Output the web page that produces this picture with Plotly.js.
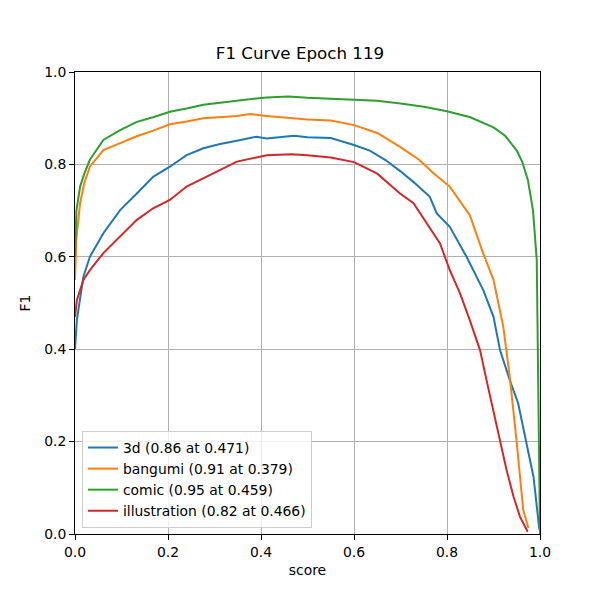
<!DOCTYPE html>
<html>
<head>
<meta charset="utf-8">
<script src="https://cdn.plot.ly/plotly-3.0.1.min.js"></script>
<style>html,body{margin:0;padding:0;background:#fff;}#chart{width:600px;height:600px;}</style>
</head>
<body>
<div id="chart"></div>
<script>
// series names (legend labels)
const names = ["3d (0.86 at 0.471)", "bangumi (0.91 at 0.379)", "comic (0.95 at 0.459)", "illustration (0.82 at 0.466)"];
const colors = ["#1f77b4", "#ff7f0e", "#2ca02c", "#d62728"];

// 3d
const x3d = [0, 0.004, 0.018, 0.032, 0.061, 0.097, 0.133, 0.168, 0.204, 0.24, 0.276, 0.312, 0.348, 0.39, 0.412, 0.45, 0.471, 0.5, 0.55, 0.6, 0.634, 0.667, 0.7, 0.73, 0.763, 0.778, 0.806, 0.842, 0.878, 0.9, 0.914, 0.935, 0.953, 0.971, 0.986, 0.9986];
const y3d = [0.40, 0.463, 0.557, 0.60, 0.651, 0.701, 0.737, 0.773, 0.795, 0.82, 0.835, 0.844, 0.851, 0.86, 0.856, 0.86, 0.862, 0.859, 0.857, 0.842, 0.83, 0.81, 0.785, 0.76, 0.73, 0.694, 0.665, 0.60, 0.528, 0.47, 0.398, 0.333, 0.283, 0.196, 0.124, 0.01];

// bangumi
const xBan = [0, 0.003, 0.011, 0.02, 0.032, 0.061, 0.097, 0.133, 0.168, 0.204, 0.24, 0.276, 0.348, 0.376, 0.412, 0.45, 0.5, 0.55, 0.6, 0.65, 0.699, 0.74, 0.771, 0.806, 0.849, 0.878, 0.90, 0.921, 0.935, 0.95, 0.964, 0.975];
const yBan = [0.55, 0.64, 0.716, 0.76, 0.795, 0.831, 0.846, 0.861, 0.873, 0.887, 0.893, 0.90, 0.905, 0.909, 0.905, 0.902, 0.897, 0.895, 0.885, 0.868, 0.838, 0.81, 0.781, 0.752, 0.69, 0.607, 0.55, 0.449, 0.34, 0.197, 0.052, 0.013];

// comic
const xCom = [0, 0.003, 0.011, 0.02, 0.032, 0.061, 0.097, 0.133, 0.168, 0.204, 0.24, 0.276, 0.348, 0.412, 0.459, 0.5, 0.55, 0.6, 0.65, 0.7, 0.75, 0.8, 0.85, 0.9, 0.925, 0.95, 0.962, 0.974, 0.985, 0.993, 0.996, 0.998, 1.0];
const yCom = [0.6, 0.70, 0.752, 0.78, 0.81, 0.853, 0.874, 0.892, 0.902, 0.914, 0.921, 0.929, 0.938, 0.945, 0.947, 0.944, 0.942, 0.94, 0.938, 0.932, 0.925, 0.915, 0.902, 0.88, 0.862, 0.83, 0.805, 0.766, 0.70, 0.593, 0.377, 0.15, 0.0];

// illustration
const xIll = [0, 0.004, 0.018, 0.032, 0.061, 0.097, 0.133, 0.168, 0.204, 0.24, 0.276, 0.312, 0.348, 0.39, 0.412, 0.466, 0.5, 0.55, 0.6, 0.65, 0.699, 0.728, 0.756, 0.785, 0.806, 0.828, 0.849, 0.871, 0.885, 0.907, 0.928, 0.943, 0.957, 0.9735];
const yIll = [0.47, 0.506, 0.55, 0.571, 0.608, 0.644, 0.68, 0.705, 0.723, 0.752, 0.77, 0.788, 0.806, 0.815, 0.82, 0.822, 0.82, 0.815, 0.805, 0.78, 0.737, 0.716, 0.672, 0.629, 0.571, 0.521, 0.463, 0.398, 0.333, 0.232, 0.139, 0.081, 0.037, 0.005];

const xs = [x3d, xBan, xCom, xIll];
const ys = [y3d, yBan, yCom, yIll];

const traces = xs.map((x, i) => ({
  x: x, y: ys[i], name: names[i], type: "scatter", mode: "lines",
  line: {color: colors[i], width: 2}
}));

const font = {family: "DejaVu Sans, sans-serif", size: 13.9, color: "#000"};
const axisBase = {
  range: [0, 1], dtick: 0.2, tickformat: ".1f", showgrid: true, gridcolor: "#b0b0b0", gridwidth: 1,
  zeroline: false, showline: true, mirror: true, linecolor: "#000", linewidth: 1,
  ticks: "outside", ticklen: 5, tickcolor: "#000", tickfont: font
};

const layout = {
  width: 600, height: 600,
  margin: {l: 75, r: 60, t: 72, b: 66},
  paper_bgcolor: "#fff", plot_bgcolor: "#fff",
  font: font,
  title: {text: "F1 Curve Epoch 119", font: {family: "DejaVu Sans, sans-serif", size: 16.7, color: "#000"}, x: 0.5, xanchor: "center", y: 0.902, yanchor: "bottom"},
  xaxis: Object.assign({}, axisBase, {title: {text: "score", font: font, standoff: 6}}),
  yaxis: Object.assign({}, axisBase, {title: {text: "F1", font: font, standoff: 10}}),
  showlegend: true,
  legend: {x: 0.015, y: 0.013, xanchor: "left", yanchor: "bottom", bgcolor: "rgba(255,255,255,0.8)",
           bordercolor: "#cccccc", borderwidth: 1, font: font, tracegroupgap: 0}
};

Plotly.newPlot("chart", traces, layout, {staticPlot: true, displayModeBar: false});
</script>
</body>
</html>
